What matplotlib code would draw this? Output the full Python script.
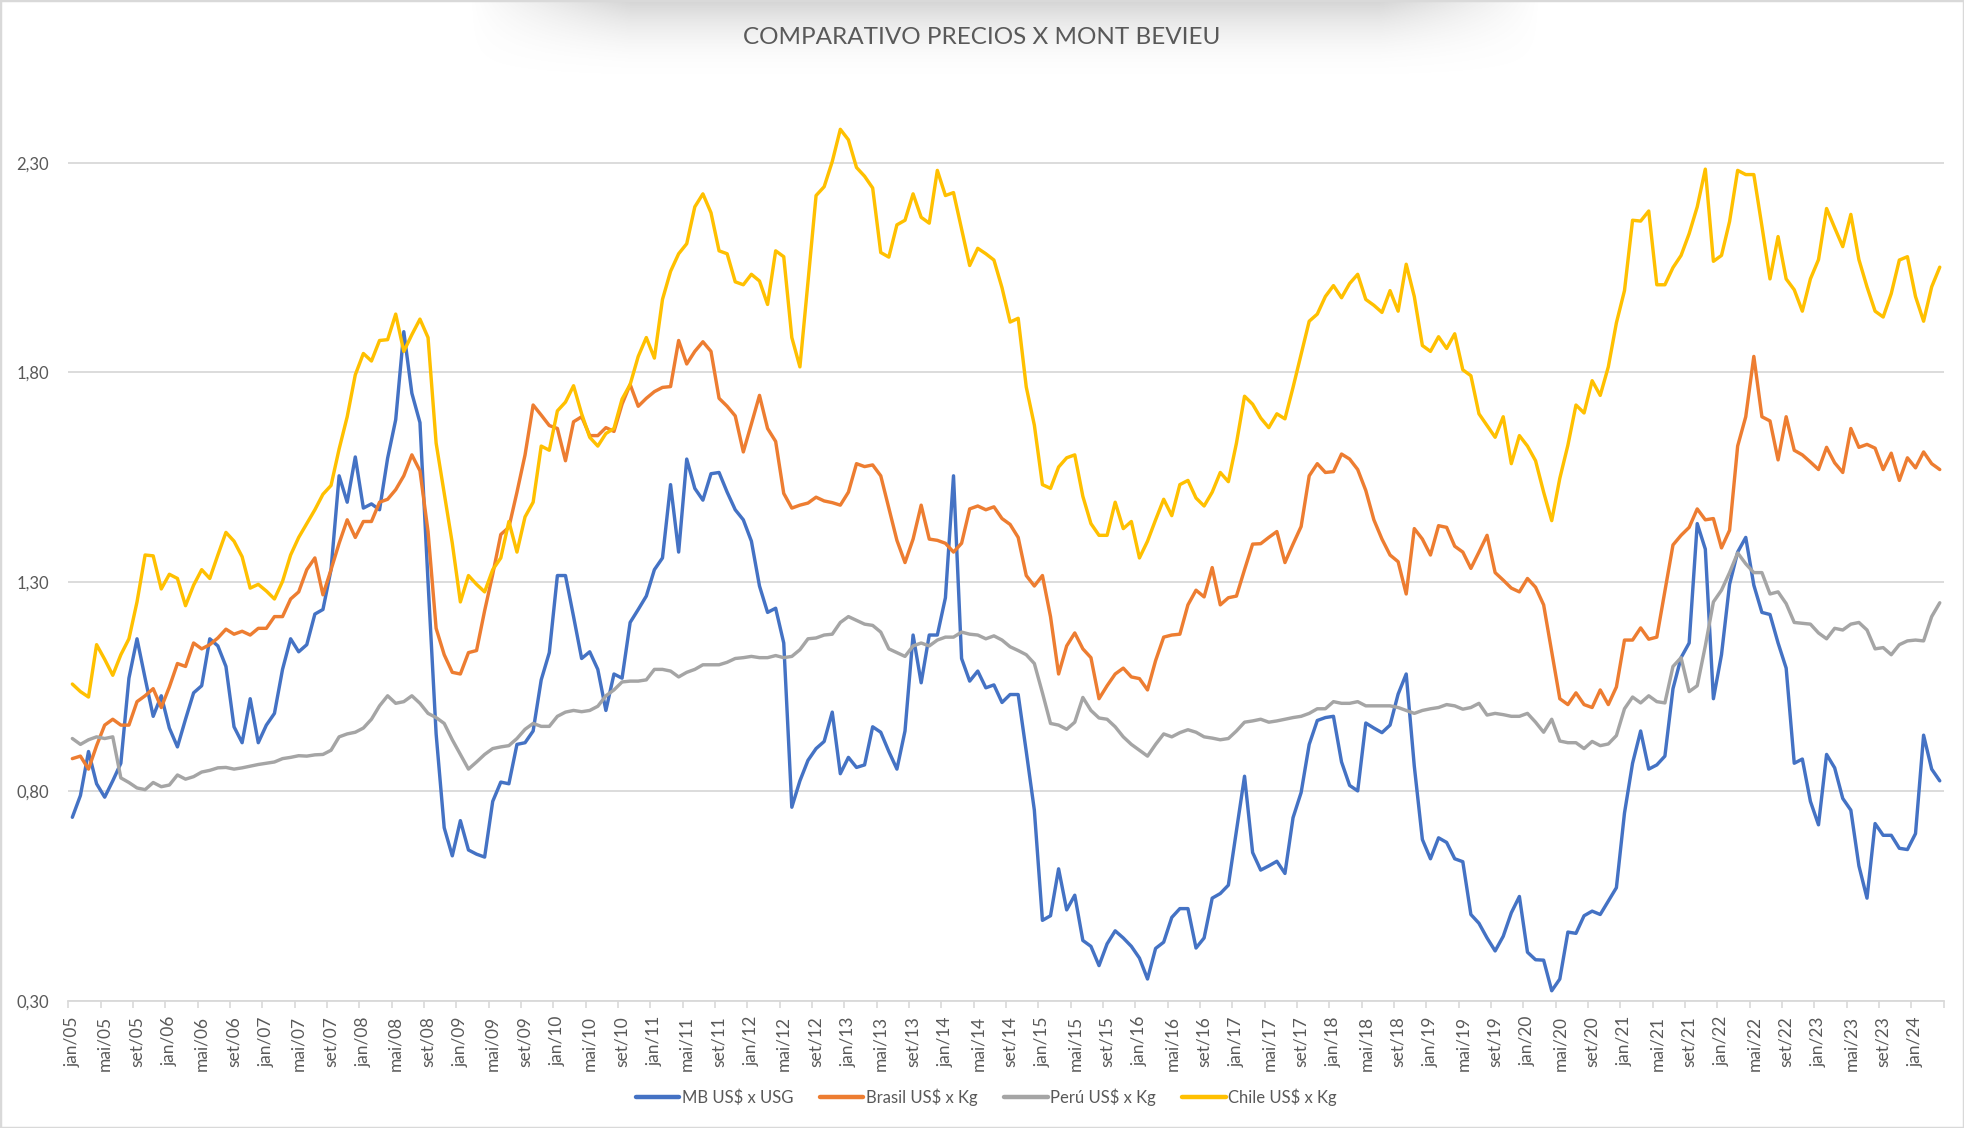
import numpy as np
import matplotlib
matplotlib.use("Agg")
import matplotlib.pyplot as plt
from matplotlib.lines import Line2D
from matplotlib.patches import Rectangle

# ---------------- data (monthly, jan/05 .. abr/24) ----------------
mb = [0.738, 0.790, 0.895, 0.818, 0.786, 0.825, 0.867, 1.070, 1.164, 1.070,
      0.979, 1.028, 0.951, 0.906, 0.972, 1.035, 1.052, 1.164, 1.147, 1.098,
      0.954, 0.916, 1.021, 0.916, 0.958, 0.986, 1.091, 1.164, 1.133, 1.150,
      1.223, 1.234, 1.329, 1.553, 1.490, 1.598, 1.476, 1.486, 1.472, 1.595,
      1.687, 1.897, 1.750, 1.680, 1.300, 0.937, 0.713, 0.646, 0.730, 0.660,
      0.650, 0.643, 0.776, 0.822, 0.818, 0.912, 0.916, 0.944, 1.066, 1.131,
      1.315, 1.315, 1.217, 1.117, 1.133, 1.091, 0.993, 1.080, 1.070, 1.203,
      1.234, 1.266, 1.329, 1.357, 1.532, 1.371, 1.593, 1.523, 1.495, 1.558,
      1.561, 1.514, 1.472, 1.448, 1.397, 1.290, 1.227, 1.237, 1.154, 0.762,
      0.825, 0.874, 0.902, 0.919, 0.989, 0.842, 0.881, 0.857, 0.863, 0.954,
      0.941, 0.895, 0.853, 0.944, 1.173, 1.059, 1.173, 1.173, 1.262, 1.553,
      1.117, 1.063, 1.087, 1.047, 1.054, 1.012, 1.031, 1.031, 0.895, 0.755,
      0.492, 0.503, 0.615, 0.517, 0.552, 0.444, 0.430, 0.384, 0.436, 0.467,
      0.450, 0.430, 0.402, 0.352, 0.425, 0.440, 0.499, 0.520, 0.520, 0.426,
      0.450, 0.545, 0.556, 0.576, 0.706, 0.836, 0.654, 0.612, 0.622, 0.633,
      0.604, 0.737, 0.797, 0.912, 0.969, 0.976, 0.979, 0.870, 0.814, 0.801,
      0.963, 0.951, 0.940, 0.958, 1.032, 1.080, 0.860, 0.685, 0.639, 0.689,
      0.678, 0.639, 0.632, 0.506, 0.485, 0.450, 0.419, 0.454, 0.510, 0.549,
      0.416, 0.398, 0.397, 0.324, 0.352, 0.464, 0.461, 0.503, 0.514, 0.506,
      0.538, 0.570, 0.748, 0.867, 0.944, 0.853, 0.863, 0.884, 1.045, 1.119,
      1.154, 1.439, 1.378, 1.021, 1.126, 1.294, 1.371, 1.406, 1.292, 1.227,
      1.222, 1.154, 1.094, 0.867, 0.877, 0.776, 0.720, 0.888, 0.856, 0.783,
      0.755, 0.622, 0.545, 0.723, 0.695, 0.695, 0.664, 0.661, 0.699, 0.934,
      0.853, 0.825]

brasil = [0.878, 0.884, 0.853, 0.909, 0.958, 0.972, 0.958, 0.958, 1.014, 1.028,
          1.045, 1.000, 1.049, 1.105, 1.098, 1.154, 1.140, 1.150, 1.166, 1.187,
          1.175, 1.182, 1.173, 1.189, 1.189, 1.217, 1.217, 1.259, 1.276, 1.329,
          1.357, 1.269, 1.329, 1.392, 1.448, 1.406, 1.444, 1.444, 1.490, 1.497,
          1.520, 1.553, 1.603, 1.565, 1.420, 1.189, 1.126, 1.084, 1.080, 1.131,
          1.136, 1.231, 1.318, 1.413, 1.430, 1.514, 1.603, 1.722, 1.698, 1.673,
          1.666, 1.589, 1.682, 1.694, 1.649, 1.649, 1.668, 1.659, 1.724, 1.771,
          1.719, 1.738, 1.754, 1.764, 1.766, 1.876, 1.820, 1.850, 1.873, 1.850,
          1.738, 1.719, 1.696, 1.610, 1.677, 1.745, 1.666, 1.635, 1.511, 1.476,
          1.483, 1.488, 1.502, 1.493, 1.489, 1.483, 1.514, 1.582, 1.575, 1.579,
          1.553, 1.476, 1.399, 1.346, 1.402, 1.483, 1.402, 1.399, 1.392, 1.371,
          1.392, 1.474, 1.481, 1.472, 1.479, 1.451, 1.437, 1.406, 1.315, 1.290,
          1.315, 1.217, 1.080, 1.147, 1.178, 1.140, 1.119, 1.021, 1.052, 1.080,
          1.094, 1.073, 1.069, 1.042, 1.112, 1.168, 1.173, 1.175, 1.245, 1.280,
          1.264, 1.334, 1.245, 1.262, 1.266, 1.329, 1.390, 1.391, 1.406, 1.420,
          1.346, 1.390, 1.432, 1.553, 1.582, 1.561, 1.563, 1.605, 1.593, 1.568,
          1.518, 1.448, 1.402, 1.364, 1.348, 1.271, 1.427, 1.402, 1.364, 1.434,
          1.430, 1.385, 1.371, 1.332, 1.371, 1.411, 1.322, 1.304, 1.285, 1.276,
          1.308, 1.287, 1.245, 1.133, 1.021, 1.007, 1.035, 1.007, 1.000, 1.042,
          1.007, 1.049, 1.161, 1.161, 1.190, 1.163, 1.168, 1.278, 1.388, 1.411,
          1.430, 1.474, 1.448, 1.451, 1.381, 1.423, 1.624, 1.694, 1.838, 1.694,
          1.684, 1.591, 1.694, 1.614, 1.603, 1.586, 1.568, 1.621, 1.584, 1.561,
          1.666, 1.621, 1.628, 1.619, 1.568, 1.607, 1.542, 1.596, 1.572, 1.610,
          1.582, 1.568]

peru = [0.926, 0.912, 0.923, 0.930, 0.926, 0.930, 0.832, 0.821, 0.808, 0.804,
        0.821, 0.811, 0.815, 0.839, 0.829, 0.835, 0.846, 0.850, 0.856, 0.857,
        0.853, 0.856, 0.860, 0.864, 0.867, 0.870, 0.878, 0.881, 0.885, 0.884,
        0.887, 0.888, 0.898, 0.930, 0.937, 0.941, 0.951, 0.972, 1.004, 1.028,
        1.010, 1.014, 1.028, 1.010, 0.986, 0.976, 0.962, 0.923, 0.888, 0.853,
        0.870, 0.888, 0.902, 0.906, 0.909, 0.926, 0.948, 0.962, 0.955, 0.955,
        0.979, 0.989, 0.993, 0.990, 0.993, 1.003, 1.028, 1.042, 1.061, 1.063,
        1.063, 1.066, 1.091, 1.091, 1.087, 1.073, 1.084, 1.091, 1.102, 1.102,
        1.102, 1.108, 1.117, 1.119, 1.122, 1.119, 1.119, 1.124, 1.119, 1.122,
        1.138, 1.164, 1.166, 1.173, 1.175, 1.203, 1.217, 1.208, 1.199, 1.196,
        1.180, 1.140, 1.131, 1.122, 1.147, 1.154, 1.147, 1.161, 1.168, 1.168,
        1.180, 1.175, 1.173, 1.164, 1.171, 1.161, 1.145, 1.136, 1.126, 1.105,
        1.035, 0.962, 0.958, 0.948, 0.965, 1.024, 0.993, 0.975, 0.972, 0.954,
        0.930, 0.912, 0.898, 0.884, 0.912, 0.937, 0.930, 0.940, 0.947, 0.941,
        0.930, 0.927, 0.923, 0.926, 0.944, 0.965, 0.968, 0.972, 0.965, 0.968,
        0.972, 0.976, 0.979, 0.986, 0.997, 0.997, 1.014, 1.010, 1.010, 1.014,
        1.004, 1.004, 1.004, 1.004, 1.000, 0.993, 0.986, 0.993, 0.997, 1.000,
        1.007, 1.004, 0.996, 1.000, 1.010, 0.982, 0.986, 0.983, 0.979, 0.979,
        0.986, 0.965, 0.941, 0.972, 0.920, 0.916, 0.916, 0.902, 0.919, 0.909,
        0.913, 0.933, 0.997, 1.025, 1.011, 1.028, 1.014, 1.011, 1.098, 1.119,
        1.038, 1.052, 1.147, 1.252, 1.280, 1.322, 1.369, 1.343, 1.322, 1.322,
        1.271, 1.276, 1.248, 1.203, 1.201, 1.199, 1.178, 1.164, 1.189, 1.185,
        1.199, 1.203, 1.185, 1.140, 1.143, 1.126, 1.150, 1.159, 1.161, 1.159,
        1.217, 1.250]

chile = [1.056, 1.038, 1.025, 1.150, 1.115, 1.077, 1.126, 1.164, 1.252, 1.364,
         1.362, 1.283, 1.318, 1.308, 1.243, 1.292, 1.329, 1.308, 1.364, 1.418,
         1.397, 1.360, 1.285, 1.294, 1.278, 1.259, 1.301, 1.364, 1.406, 1.439,
         1.472, 1.509, 1.530, 1.617, 1.694, 1.794, 1.845, 1.827, 1.876, 1.878,
         1.939, 1.850, 1.890, 1.927, 1.883, 1.631, 1.511, 1.392, 1.252, 1.315,
         1.294, 1.276, 1.329, 1.357, 1.444, 1.371, 1.455, 1.490, 1.624, 1.614,
         1.708, 1.729, 1.768, 1.701, 1.645, 1.624, 1.654, 1.666, 1.736, 1.771,
         1.838, 1.883, 1.834, 1.974, 2.041, 2.083, 2.107, 2.195, 2.226, 2.181,
         2.090, 2.083, 2.016, 2.009, 2.034, 2.018, 1.962, 2.090, 2.076, 1.883,
         1.813, 2.016, 2.222, 2.243, 2.303, 2.380, 2.355, 2.289, 2.268, 2.240,
         2.086, 2.075, 2.152, 2.163, 2.226, 2.170, 2.156, 2.282, 2.222, 2.229,
         2.142, 2.055, 2.096, 2.083, 2.068, 2.002, 1.920, 1.929, 1.765, 1.674,
         1.532, 1.523, 1.574, 1.596, 1.603, 1.504, 1.439, 1.411, 1.411, 1.490,
         1.427, 1.444, 1.357, 1.397, 1.448, 1.497, 1.458, 1.532, 1.542, 1.500,
         1.481, 1.514, 1.561, 1.539, 1.631, 1.743, 1.724, 1.691, 1.668, 1.701,
         1.689, 1.764, 1.843, 1.922, 1.939, 1.981, 2.007, 1.978, 2.012, 2.034,
         1.974, 1.960, 1.943, 1.995, 1.946, 2.058, 1.981, 1.864, 1.850, 1.885,
         1.857, 1.892, 1.806, 1.792, 1.701, 1.673, 1.645, 1.694, 1.582, 1.649,
         1.624, 1.589, 1.514, 1.446, 1.547, 1.626, 1.722, 1.703, 1.780, 1.745,
         1.813, 1.918, 1.995, 2.163, 2.161, 2.185, 2.009, 2.009, 2.050, 2.079,
         2.131, 2.195, 2.285, 2.065, 2.079, 2.160, 2.282, 2.272, 2.272, 2.149,
         2.023, 2.124, 2.023, 1.997, 1.946, 2.023, 2.069, 2.191, 2.145, 2.100,
         2.177, 2.069, 2.004, 1.946, 1.932, 1.988, 2.068, 2.076, 1.981, 1.922,
         2.004, 2.051]

series_names = ['MB US\\$ x USG', 'Brasil US\\$ x Kg', 'Perú US\\$ x Kg', 'Chile US\\$ x Kg']
months = ['jan', 'fev', 'mar', 'abr', 'mai', 'jun', 'jul', 'ago', 'set', 'out', 'nov', 'dez']
start_year = 5
yticks = [0.30, 0.80, 1.30, 1.80, 2.30]
title = 'COMPARATIVO PRECIOS X MONT BEVIEU'

# ---------------- style ----------------
plt.rcParams['font.family'] = ['Lato', 'DejaVu Sans']
colors = ['#4472C4', '#ED7D31', '#A5A5A5', '#FFC000']
txt = '#595959'
grid_c = '#d9d9d9'

W, H = 1964, 1128
fig = plt.figure(figsize=(W / 100, H / 100), dpi=100)
fig.patch.set_facecolor('white')

# top shadow decoration
sh_ax = fig.add_axes([470 / W, 1 - 85 / H, 1070 / W, 85 / H])
hh, ww = 85, 1070
yy = np.linspace(0, 1, hh)[:, None]
xx = np.arange(ww)[None, :]
edge = np.clip(np.minimum(xx, ww - 1 - xx) / 160.0, 0, 1)
alpha = 0.42 * (1 - yy) ** 2.2 * edge
img = np.zeros((hh, ww, 4))
img[..., :3] = 0.60
img[..., 3] = alpha
sh_ax.imshow(img, aspect='auto', interpolation='bilinear')
sh_ax.axis('off')

n = len(mb)
x = np.arange(n)
ax = fig.add_axes([68.3 / W, 1 - 1000.8 / H, (1943.8 - 68.3) / W, (1000.8 - 100) / H])
ax.set_facecolor('none')

for s, c, nm in zip([mb, brasil, peru, chile], colors, series_names):
    ax.plot(x, s, color=c, lw=2.45, label=nm, solid_joinstyle='round', solid_capstyle='round', zorder=3)

ax.set_xlim(-0.5, n - 0.5)
ax.set_ylim(0.30, 2.45)

# y axis
ax.set_yticks(yticks)
ax.set_yticklabels([f"{v:.2f}".replace('.', ',') for v in yticks])
ax.tick_params(axis='y', length=0, pad=14, labelsize=12, labelcolor=txt)
ax.yaxis.grid(True, color=grid_c, lw=1.3, zorder=0)
ax.set_axisbelow(True)

# x axis: boundary ticks + centered labels
label_idx = list(range(0, n, 4))
cat_labels = [f"{months[i % 12]}/{start_year + i // 12:02d}" for i in label_idx]
ax.set_xticks(np.arange(-0.5, n, 4))
ax.set_xticklabels([])
ax.set_xticks(label_idx, minor=True)
ax.set_xticklabels(cat_labels, minor=True, rotation=90)
ax.tick_params(axis='x', which='major', length=5, width=1.2, color=grid_c, direction='out')
ax.tick_params(axis='x', which='minor', length=0, pad=11, labelsize=12.5, labelcolor=txt)

for sp in ['top', 'right', 'left']:
    ax.spines[sp].set_visible(False)
ax.spines['bottom'].set_color(grid_c)
ax.spines['bottom'].set_linewidth(1.3)

# title
fig.text(0.5, 1 - 37.7 / H, title, ha='center', va='center', fontsize=17.5, color=txt)

# legend
handles = [Line2D([0], [0], color=c, lw=3.2, solid_capstyle='round') for c in colors]
fig.legend(handles, series_names, loc='center', bbox_to_anchor=(986.5 / W, 1 - 1097.5 / H),
           ncol=4, frameon=False, fontsize=12, handlelength=2.6, handletextpad=0.15,
           columnspacing=1.6, labelcolor=txt)

# chart border
fig.patches.append(Rectangle((0, 0), 1, 1, transform=fig.transFigure, fill=False,
                             edgecolor=grid_c, lw=2.5))

fig.savefig('out.png', dpi=100)
